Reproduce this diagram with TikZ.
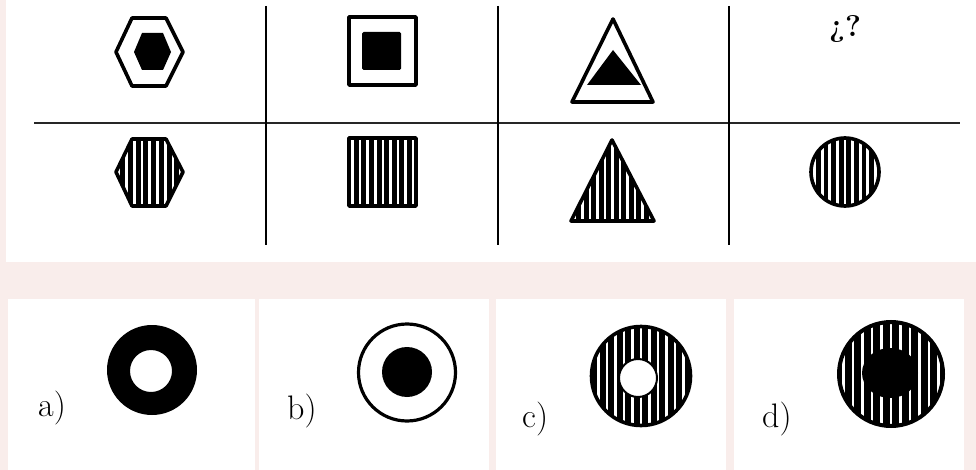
\documentclass[tikz,border=0pt]{standalone}
\usepackage{fontspec}
\definecolor{bgpink}{RGB}{249,237,235}
\begin{document}
\begin{tikzpicture}[x=1pt,y=-1pt,
  outl/.style={line width=3.6pt, line join=round},
  gridline/.style={line width=1.8pt, black!85},
  stripe/.style={white, line width=2.7pt},
  lbl/.style={font=\fontsize{34}{34}\selectfont, inner sep=0pt, anchor=base west}]
\useasboundingbox (0,0) rectangle (976,470);
% background
\fill[bgpink] (0,0) rectangle (976,470);
\fill[white] (6,0) rectangle (976,262);
\fill[white] (8,299) rectangle (255,470);
\fill[white] (259,299) rectangle (489,470);
\fill[white] (496,299) rectangle (726,470);
\fill[white] (734,299) rectangle (964,470);
% grid
\draw[gridline] (34,123) -- (960,123);
\foreach \x in {266,498,729} \draw[line width=1.3pt] (\x,6) -- (\x,245);
% top row
\draw[outl] (116,52) -- (132,18) -- (166,18) -- (183,52) -- (166,86) -- (132,86) -- cycle;
\fill (134,52) -- (142,33) -- (163,33) -- (171,52) -- (163,70) -- (142,70) -- cycle;
\draw[outl] (349,17) rectangle (416,85);
\fill[rounded corners=1.5pt] (362,32) rectangle (401,70);
\draw[outl] (613,19) -- (653,102) -- (572,102) -- cycle;
\fill[line join=round] (613,50) -- (641,85) -- (587,85) -- cycle;
\node[font=\fontsize{30}{30}\selectfont\bfseries, inner sep=0pt] (q) at (845,29) {¿?};
% bottom row: striped shapes
\begin{scope}
  \clip (116,172) -- (132,139) -- (166,139) -- (183,172) -- (166,206) -- (132,206) -- cycle;
  \fill (110,130) rectangle (190,215);
  \foreach \k in {0,...,8} \draw[stripe] (119+7.7*\k,130) -- (119+7.7*\k,215);
\end{scope}
\draw[outl] (116,172) -- (132,139) -- (166,139) -- (183,172) -- (166,206) -- (132,206) -- cycle;
\begin{scope}
  \clip (349,138) rectangle (416,206);
  \fill (340,130) rectangle (420,215);
  \foreach \k in {0,...,8} \draw[stripe] (352.5+7.6*\k,130) -- (352.5+7.6*\k,215);
\end{scope}
\draw[outl] (349,138) rectangle (416,206);
\begin{scope}
  \clip (612,140) -- (654,221) -- (571,221) -- cycle;
  \fill (565,130) rectangle (660,230);
  \foreach \k in {-5,...,5} \draw[stripe] (612.5+7.5*\k,130) -- (612.5+7.5*\k,230);
\end{scope}
\draw[outl] (612,140) -- (654,221) -- (571,221) -- cycle;
\begin{scope}
  \clip (845,172) circle (34);
  \fill (805,130) rectangle (885,215);
  \foreach \k in {-4,...,4} \draw[stripe] (845+7.6*\k,130) -- (845+7.6*\k,215);
\end{scope}
\draw[outl] (845,172) circle (34);
% options
\node[lbl] (la) at (38,416) {a)};
\fill[even odd rule] (152,370) circle (45) (151,371) circle (21);
\node[lbl] (lb) at (287,419) {b)};
\draw[line width=3.2pt] (407,372.5) circle (48.5);
\fill (407,372) circle (25);
\node[lbl] (lc) at (522,427) {c)};
\begin{scope}
  \clip (641,376) circle (49.5);
  \fill (585,320) rectangle (700,430);
  \foreach \k in {-6,...,6} \draw[stripe] (641+8.5*\k,320) -- (641+8.5*\k,430);
\end{scope}
\fill[white] (638,378) circle (19);
\draw[line width=2pt] (638,378) circle (19);
\draw[outl] (641,376) circle (49.5);
\node[lbl] (ld) at (762,427) {d)};
\begin{scope}
  \clip (891,374) circle (52);
  \fill (835,315) rectangle (950,430);
  \foreach \k in {-6,...,6} \draw[stripe] (891+9.5*\k,315) -- (891+9.5*\k,430);
\end{scope}
\fill (890,373) ellipse [x radius=28, y radius=25];
\draw[line width=4pt] (891,374) circle (52);
\end{tikzpicture}
\end{document}
